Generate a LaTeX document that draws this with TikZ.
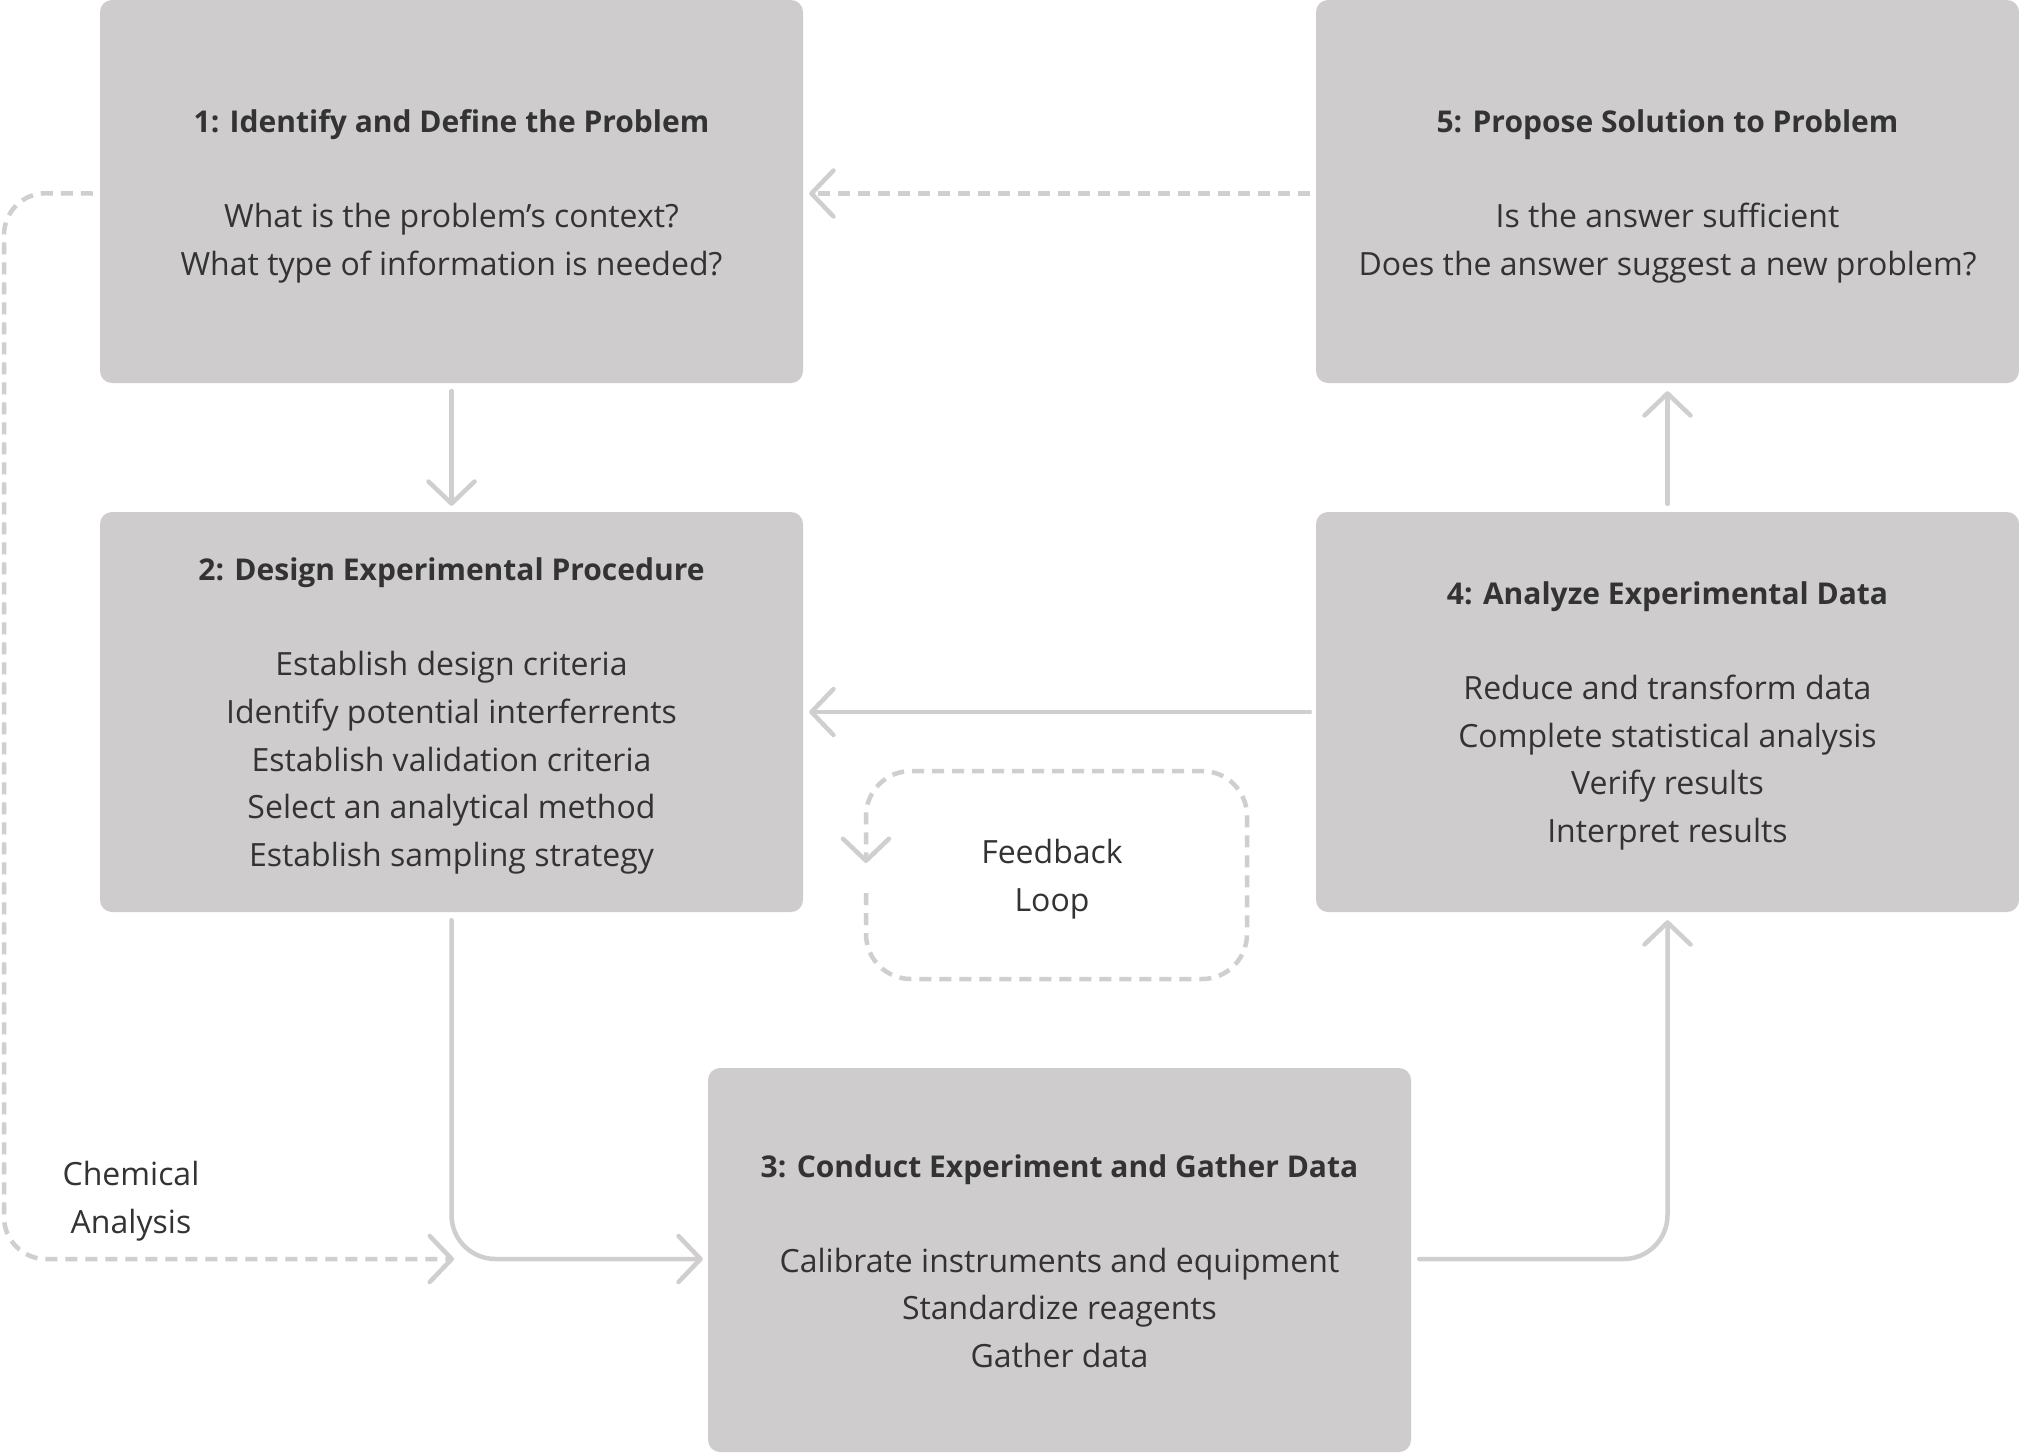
\documentclass[tikz,border=0pt]{standalone}
\usepackage{fontspec}
\setmainfont{Open Sans}
\usetikzlibrary{arrows.meta,calc}
\definecolor{boxgray}{RGB}{206,204,205}
\definecolor{linegray}{RGB}{208,206,207}
\definecolor{txt}{RGB}{51,51,51}
\newcommand{\ttl}[1]{{\fontsize{30}{47.6}\selectfont\bfseries #1}}
\tikzset{
  stepbox/.style={fill=boxgray, rounded corners=12pt, minimum width=703pt, inner sep=0pt},
  conn/.style={draw=linegray, line width=4.5pt, line cap=round, line join=round,
    -{Straight Barb[length=22pt,width=46pt,round]}},
  dconn/.style={conn, dash pattern=on 12pt off 8pt, line cap=butt},
  lbl/.style={align=center, text=txt, inner sep=0pt, font=\fontsize{32}{47.6}\selectfont}
}
\begin{document}
\begin{tikzpicture}[x=1pt,y=-1pt]
\useasboundingbox (0,0) rectangle (2019,1452);
\fill[white] (0,0) rectangle (2019,1452);
\node[stepbox, minimum height=383pt] (b1) at (451.5,191.5) {};
\node[stepbox, minimum height=383pt] (b5) at (1667.5,191.5) {};
\node[stepbox, minimum height=400pt] (b2) at (451.5,712) {};
\node[stepbox, minimum height=400pt] (b4) at (1667.5,712) {};
\node[stepbox, minimum height=384pt] (b3) at (1059.5,1260) {};
\node[lbl] (t1) at ($(b1.center)+(0,5)$)
  {\ttl{1: Identify and Define the Problem}\\[47.6pt]
   What is the problem’s context?\\What type of information is needed?};
\node[lbl] (t5) at ($(b5.center)+(0,5)$)
  {\ttl{5: Propose Solution to Problem}\\[47.6pt]
   Is the answer sufficient\\Does the answer suggest a new problem?};
\node[lbl] (t2) at ($(b2.center)+(0,4)$)
  {\ttl{2: Design Experimental Procedure}\\[47.6pt]
   Establish design criteria\\Identify potential interferrents\\Establish validation criteria\\Select an analytical method\\Establish sampling strategy};
\node[lbl] (t4) at ($(b4.center)+(0,4)$)
  {\ttl{4: Analyze Experimental Data}\\[47.6pt]
   Reduce and transform data\\Complete statistical analysis\\Verify results\\Interpret results};
\node[lbl] (t3) at ($(b3.center)+(0,1)$)
  {\ttl{3: Conduct Experiment and Gather Data}\\[47.6pt]
   Calibrate instruments and equipment\\Standardize reagents\\Gather data};
\node[lbl] (chem) at (131,1201) {Chemical\\Analysis};
\node[lbl] (fb) at (1052,879) {Feedback\\Loop};
% solid connectors
\draw[conn] ($(b1.south)+(0,8)$) -- ($(b2.north)+(0,-6)$);
\draw[conn] ($(b4.north)+(0,-8)$) -- ($(b5.south)+(0,8)$);
\draw[conn] ($(b4.west)+(-6,0)$) -- ($(b2.east)+(6,0)$);
\draw[conn, rounded corners=44pt] ($(b2.south)+(0,8)$) |- ($(b3.west)+(-5,-1)$);
\draw[conn, rounded corners=44pt] ($(b3.east)+(8,-1)$) -| ($(b4.south)+(0,8)$);
% dashed connectors
\draw[dconn] ($(b5.west)+(-6,2)$) -- ($(b1.east)+(6,2)$);
\coordinate (lt) at (4,193);
\coordinate (lb) at (4,1259);
\coordinate (ca) at (454,1259);
\draw[dconn, rounded corners=42pt] ($(b1.west)+(-7,2)$) -- (lt) -- (lb) -- (ca);
% feedback loop
\coordinate (f0) at (866,893);
\coordinate (f1) at (866,979);
\coordinate (f2) at (1247,979);
\coordinate (f3) at (1247,771);
\coordinate (f4) at (866,771);
\coordinate (f5) at (866,863);
\draw[dconn, rounded corners=45pt] (f0) -- (f1) -- (f2) -- (f3) -- (f4) -- (f5);
\end{tikzpicture}
\end{document}
